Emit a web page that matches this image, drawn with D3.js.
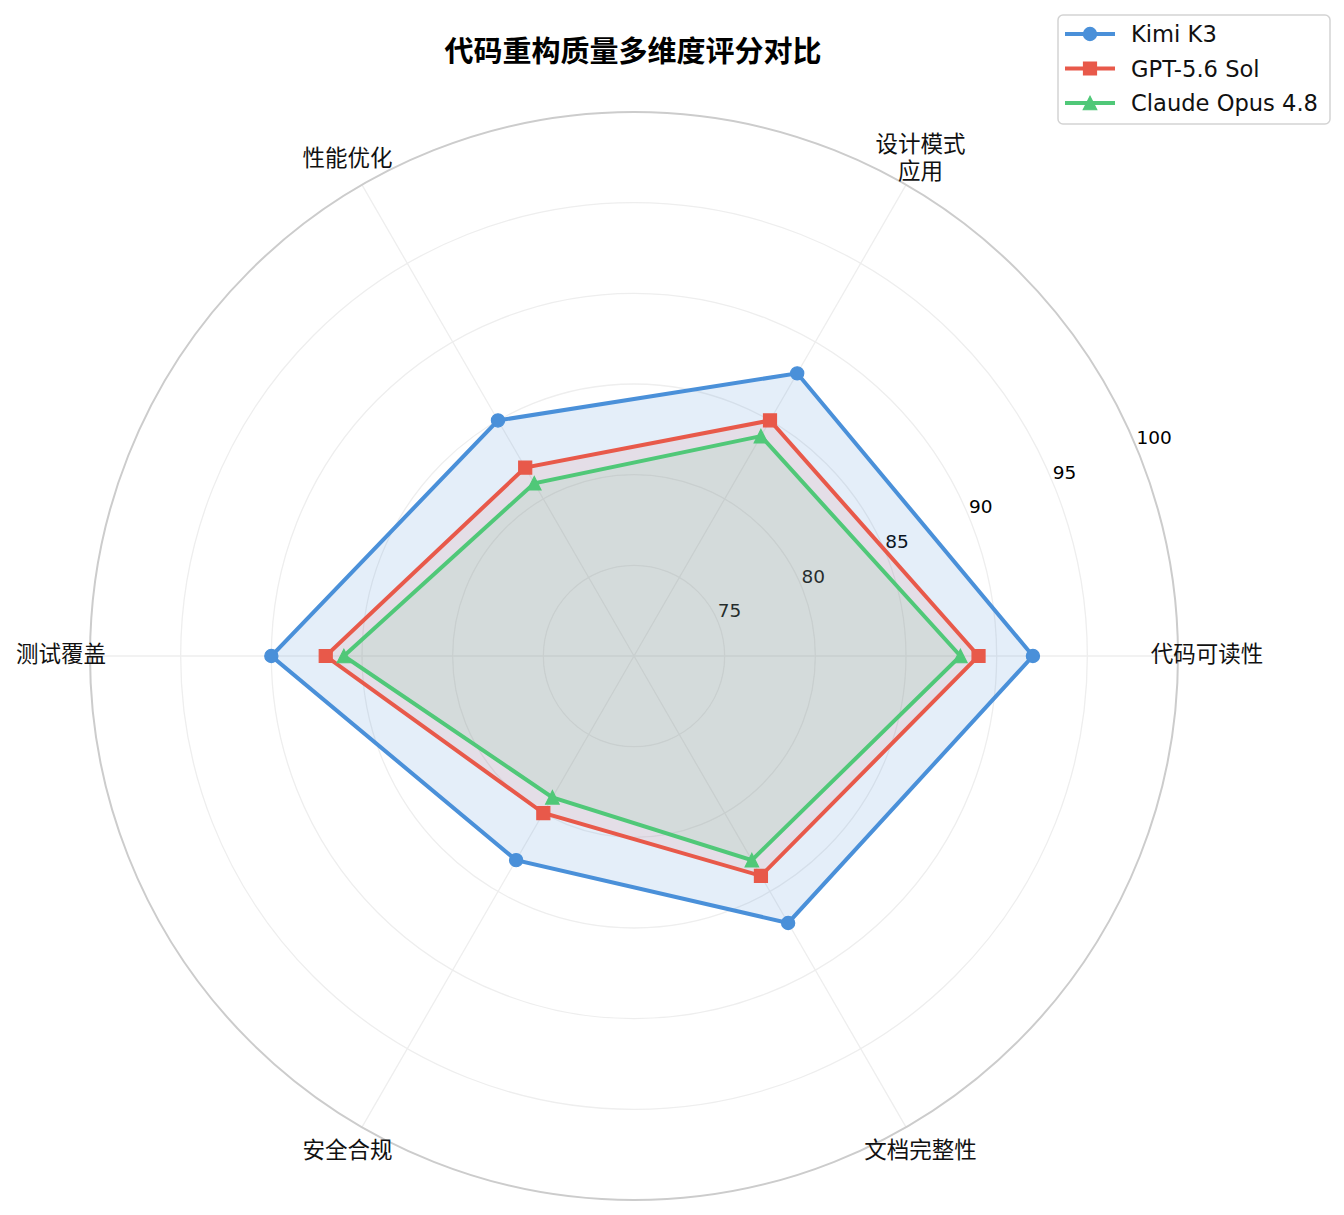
<!DOCTYPE html>
<html>
<head>
<meta charset="utf-8">
<script src="https://cdn.jsdelivr.net/npm/d3@7"></script>
<style>
  body { margin: 0; background: #fff; }
  svg { display: block; }
</style>
</head>
<body>
<svg></svg>
<script>
const size = {w: 1344, h: 1215};
const center = {x: 634, y: 656};
const outerR = 544;

// data
const categories = ['代码可读性', '设计模式\n应用', '性能优化', '测试覆盖', '安全合规', '文档完整性'];
const seriesNames = ['Kimi K3', 'GPT-5.6 Sol', 'Claude Opus 4.8'];
const kimiValues = [92, 88, 85, 90, 83, 87];
const gptValues = [89, 85, 82, 87, 80, 84];
const claudeValues = [88, 84, 81, 86, 79, 83];
const radialTicks = [75, 80, 85, 90, 95, 100];
const colors = ['#4A90D9', '#E8594A', '#50C878'];
const fillAlpha = [0.15, 0.1, 0.1];

const latin = "'DejaVu Sans', sans-serif";
const cjk = "'DejaVu Sans', 'Noto Sans CJK SC', sans-serif";

const svg = d3.select('svg')
    .attr('width', size.w)
    .attr('height', size.h);

const rScale = d3.scaleLinear().domain([70, 100]).range([0, outerR]);
// math angle, counter-clockwise from east
const angle = i => i * 2 * Math.PI / categories.length;
// d3 radial angle: clockwise from north
const radialAngle = i => Math.PI / 2 - angle(i);
const px = (i, r) => center.x + r * Math.cos(angle(i));
const py = (i, r) => center.y - r * Math.sin(angle(i));

const g = svg.append('g').attr('transform', `translate(${center.x},${center.y})`);

// grid circles
g.append('g').selectAll('circle')
    .data(radialTicks.slice(0, -1))
    .join('circle')
    .attr('r', d => rScale(d))
    .attr('fill', 'none')
    .attr('stroke', '#eeeeee')
    .attr('stroke-width', 1.3);

// spokes
g.append('g').selectAll('line')
    .data(categories)
    .join('line')
    .attr('x1', 0).attr('y1', 0)
    .attr('x2', (d, i) => outerR * Math.cos(angle(i)))
    .attr('y2', (d, i) => -outerR * Math.sin(angle(i)))
    .attr('stroke', '#eeeeee')
    .attr('stroke-width', 1.3);

// outer spine
g.append('circle')
    .attr('r', rScale(100))
    .attr('fill', 'none')
    .attr('stroke', '#cccccc')
    .attr('stroke-width', 2);

// radial tick labels at 22.5 degrees
const labelAng = 22.5 * Math.PI / 180;
g.append('g').selectAll('text')
    .data(radialTicks)
    .join('text')
    .attr('x', d => rScale(d) * Math.cos(labelAng))
    .attr('y', d => -rScale(d) * Math.sin(labelAng) - 4)
    .attr('font-family', latin)
    .attr('font-size', 18.5)
    .attr('fill', '#000')
    .text(d => d);

// series
const allSeries = [kimiValues, gptValues, claudeValues].map((vals, k) => ({
    name: seriesNames[k], values: vals, color: colors[k], k: k
}));

const radarLine = d3.lineRadial()
    .angle((d, i) => radialAngle(i))
    .radius(d => rScale(d))
    .curve(d3.curveLinearClosed);

// matplotlib-like up triangle (width = height)
const triangleUp = {
    draw(context, s) {
        const h = Math.sqrt(s) / 2;
        context.moveTo(0, -h);
        context.lineTo(h, h);
        context.lineTo(-h, h);
        context.closePath();
    }
};
const markerTypes = [d3.symbolCircle, d3.symbolSquare, triangleUp];
const markerSizes = [Math.PI * 6.6 * 6.6, 13 * 13, 13.5 * 13.5];

const seriesG = g.append('g').selectAll('g')
    .data(allSeries)
    .join('g');

seriesG.append('path')
    .attr('d', d => radarLine(d.values))
    .attr('fill', d => d.color)
    .attr('fill-opacity', d => fillAlpha[d.k])
    .attr('stroke', 'none');

seriesG.append('path')
    .attr('d', d => radarLine(d.values))
    .attr('fill', 'none')
    .attr('stroke', d => d.color)
    .attr('stroke-width', 4)
    .attr('stroke-linejoin', 'miter');

seriesG.each(function (s) {
    d3.select(this).selectAll('path.marker')
        .data(s.values)
        .join('path')
        .classed('marker', true)
        .attr('transform', (d, i) => `translate(${rScale(d) * Math.cos(angle(i))},${-rScale(d) * Math.sin(angle(i))})`)
        .attr('d', d3.symbol().type(markerTypes[s.k]).size(markerSizes[s.k]))
        .attr('fill', s.color)
        .attr('stroke', s.color)
        .attr('stroke-width', 1.2);
});

// category labels
const catLabelR = 573;
const catText = svg.append('g').selectAll('text')
    .data(categories)
    .join('text')
    .attr('font-family', cjk)
    .attr('font-size', 22.5)
    .attr('fill', '#111')
    .attr('text-anchor', 'middle')
    .attr('dominant-baseline', 'central');

catText.each(function (d, i) {
    const lines = d.split('\n');
    const x = px(i, catLabelR);
    const y = py(i, catLabelR) - 2;
    const lh = 27;
    d3.select(this).selectAll('tspan')
        .data(lines)
        .join('tspan')
        .attr('x', x)
        .attr('y', (l, j) => y + (j - (lines.length - 1) / 2) * lh)
        .text(l => l);
});

// title
svg.append('text')
    .attr('x', 633)
    .attr('y', 49)
    .attr('text-anchor', 'middle')
    .attr('dominant-baseline', 'central')
    .attr('font-family', "'Noto Sans CJK SC', sans-serif")
    .attr('font-weight', 'bold')
    .attr('font-size', 29)
    .attr('fill', '#000')
    .text('代码重构质量多维度评分对比');

// legend
const legend = svg.append('g').attr('transform', 'translate(1058,15)');
legend.append('rect')
    .attr('width', 272)
    .attr('height', 109)
    .attr('rx', 5)
    .attr('fill', '#fff')
    .attr('fill-opacity', 0.8)
    .attr('stroke', '#d3d3d3')
    .attr('stroke-width', 1.5);

const rowY = d3.scalePoint().domain(seriesNames).range([19, 88]);
const item = legend.selectAll('g.item')
    .data(allSeries)
    .join('g')
    .classed('item', true)
    .attr('transform', d => `translate(0,${rowY(d.name)})`);

item.append('line')
    .attr('x1', 7).attr('x2', 57)
    .attr('stroke', d => d.color)
    .attr('stroke-width', 4);

item.append('path')
    .attr('transform', 'translate(32,0)')
    .attr('d', d => d3.symbol().type(markerTypes[d.k]).size(markerSizes[d.k])())
    .attr('fill', d => d.color)
    .attr('stroke', d => d.color)
    .attr('stroke-width', 1.2);

item.append('text')
    .attr('x', 73)
    .attr('dominant-baseline', 'central')
    .attr('font-family', latin)
    .attr('font-size', 22.6)
    .attr('fill', '#111')
    .text(d => d.name);
</script>
</body>
</html>
